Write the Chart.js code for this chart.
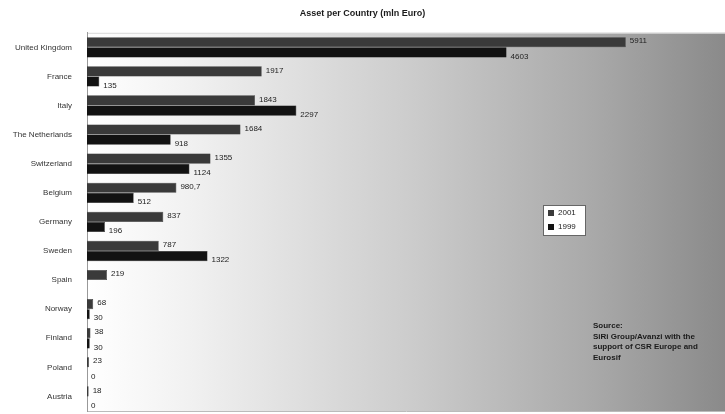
<!DOCTYPE html>
<html lang="en">
<head>
<meta charset="UTF-8">
<title>Asset per Country (mln Euro)</title>
<script src="https://cdn.jsdelivr.net/npm/chart.js"></script>
<style>
body{margin:0;background:#fff;}
canvas{display:block;}
</style>
</head>
<body>
<canvas id="chart" width="725" height="414"></canvas>
<script>
// asset figures, mln Euro
const countries = ["United Kingdom","France","Italy","The Netherlands","Switzerland","Belgium","Germany","Sweden","Spain","Norway","Finland","Poland","Austria"];
const assets2001 = [5911, 1917, 1843, 1684, 1355, 980.7, 837, 787, 219, 68, 38, 23, 18];
const assets1999 = [4603, 135, 2297, 918, 1124, 512, 196, 1322, null, 30, 30, 0, 0];
const sourceLines = ["Source:", "SiRi Group/Avanzi with the", "support of CSR Europe and", "Eurosif"];

const FONT = "Liberation Sans, Arial, sans-serif";

function fmt(v){ return String(v).replace('.', ','); }

// grey wash behind the bars, light on the left and darker to the right
const areaBg = {
  id: 'areaBg',
  beforeDraw(chart){
    const {ctx, chartArea:a} = chart;
    const g = ctx.createLinearGradient(a.left, 0, a.right, 0);
    g.addColorStop(0, '#ffffff');
    g.addColorStop(0.15, '#f2f2f2');
    g.addColorStop(0.5, '#cdcdcd');
    g.addColorStop(0.8, '#a8a8a8');
    g.addColorStop(1, '#8a8a8a');
    ctx.save();
    ctx.fillStyle = g;
    ctx.fillRect(a.left, a.top, a.right - a.left, a.bottom - a.top);
    ctx.strokeStyle = '#d8d8d8';
    ctx.beginPath(); ctx.moveTo(a.left, a.top + 0.5); ctx.lineTo(a.right, a.top + 0.5); ctx.stroke();
    ctx.restore();
  }
};

// value next to the end of every bar
const barValues = {
  id: 'barValues',
  afterDatasetsDraw(chart){
    const ctx = chart.ctx;
    ctx.save();
    ctx.font = '8px ' + FONT;
    ctx.fillStyle = '#222';
    ctx.textBaseline = 'middle';
    chart.data.datasets.forEach((ds, i) => {
      chart.getDatasetMeta(i).data.forEach((bar, j) => {
        const v = ds.data[j];
        if (v === null) return;
        const dy = i === 0 ? -1 : 4;
        ctx.fillText(fmt(v), bar.x + 4, bar.y + dy);
      });
    });
    ctx.restore();
  }
};

// boxed legend and source note inside the plot
const boxNotes = {
  id: 'boxNotes',
  afterDraw(chart){
    const ctx = chart.ctx;
    ctx.save();
    ctx.fillStyle = '#fff';
    ctx.strokeStyle = '#666';
    ctx.lineWidth = 1;
    ctx.fillRect(543.5, 205.5, 42, 30);
    ctx.strokeRect(543.5, 205.5, 42, 30);
    ctx.font = '8px ' + FONT;
    ctx.textBaseline = 'middle';
    chart.data.datasets.forEach((ds, i) => {
      const y = 213 + i * 14;
      ctx.fillStyle = ds.backgroundColor;
      ctx.fillRect(548, y - 3, 6, 6);
      ctx.fillStyle = '#222';
      ctx.fillText(ds.label, 558, y);
    });
    ctx.font = 'bold 8px ' + FONT;
    ctx.fillStyle = '#1a1a1a';
    sourceLines.forEach((t, k) => ctx.fillText(t, 593, 326 + k * 10.5));
    ctx.restore();
  }
};

new Chart(document.getElementById('chart'), {
  type: 'bar',
  data: {
    labels: countries,
    datasets: [
      {label: '2001', data: assets2001, backgroundColor: '#3a3a3a', borderColor: '#1e1e1e', borderWidth: 0.5},
      {label: '1999', data: assets1999, backgroundColor: '#121212', borderColor: '#000', borderWidth: 0.5}
    ]
  },
  options: {
    indexAxis: 'y',
    responsive: false,
    animation: false,
    devicePixelRatio: 1,
    datasets: {bar: {barPercentage: 1, categoryPercentage: 0.7}},
    scales: {
      x: {
        min: 0, max: 7000,
        afterFit(s){ s.height = 3; },
        ticks: {display: false},
        grid: {display: false},
        border: {display: true, color: '#bbb'}
      },
      y: {
        afterFit(s){ s.width = 87; s.paddingTop = 0; s.paddingBottom = 0; },
        grid: {display: false},
        border: {display: true, color: '#999'},
        ticks: {color: '#333', font: {family: FONT, size: 8}, padding: 7}
      }
    },
    plugins: {
      legend: {display: false},
      tooltip: {enabled: false},
      title: {
        display: true,
        text: 'Asset per Country (mln Euro)',
        color: '#1a1a1a',
        font: {family: FONT, size: 9, weight: 'bold'},
        padding: {top: 8, bottom: 14}
      }
    }
  },
  plugins: [areaBg, barValues, boxNotes]
});
</script>
</body>
</html>
